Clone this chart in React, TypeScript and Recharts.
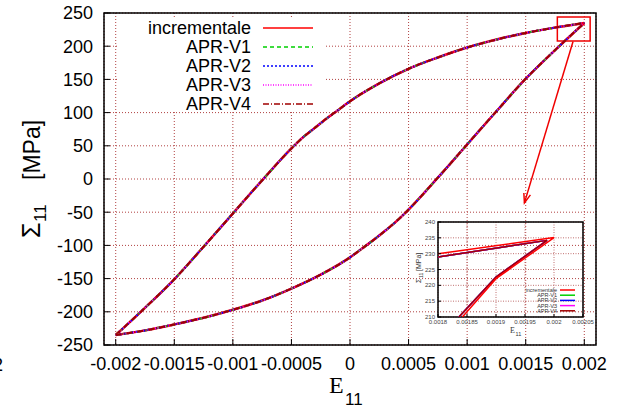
import { LineChart, Line, XAxis, YAxis, CartesianGrid, ReferenceArea, ReferenceLine } from 'recharts'

// ramo di carico (parte alta del ciclo)
const upperStrain = [-0.002, -0.00175, -0.0015, -0.00125, -0.001, -0.00075, -0.0005, -0.0004, -0.0003, -0.0002, -0.0001, 0, 0.00025, 0.0005, 0.00075, 0.001, 0.00125, 0.0015, 0.00175, 0.002]
const upperStress = [-235, -194, -151, -102, -52, -2, 46, 63, 77, 91, 104, 117, 144, 166, 183, 198, 210, 220, 228, 235]

// ramo di scarico (parte bassa del ciclo)
const lowerStrain = [-0.002, -0.00175, -0.0015, -0.00125, -0.001, -0.00075, -0.0005, -0.00025, 0, 0.0001, 0.0002, 0.0003, 0.0004, 0.0005, 0.00075, 0.001, 0.00125, 0.0015, 0.00175, 0.002]
const lowerStress = [-235, -228, -219, -209, -197, -183, -165, -144, -118, -105, -92, -78, -63, -46, 2, 52, 102, 151, 194, 235]

const xTicks = [-0.002, -0.0015, -0.001, -0.0005, 0, 0.0005, 0.001, 0.0015, 0.002]
const xTickLabels = ['-0.002', '-0.0015', '-0.001', '-0.0005', '0', '0.0005', '0.001', '0.0015', '0.002']
const yTicks = [-250, -200, -150, -100, -50, 0, 50, 100, 150, 200, 250]

// zoom sul vertice
const zoomStrainInc = [0.0018, 0.002, 0.0019, 0.001842]
const zoomStressInc = [230.0, 235.1, 222.1, 210]
const zoomStrainApr = [0.0018, 0.001988, 0.0019, 0.001836]
const zoomStressApr = [228.95, 234.2, 222.6, 210]

const zoomXTicks = [0.0018, 0.00185, 0.0019, 0.00195, 0.002, 0.00205]
const zoomXTickLabels = ['0.0018', '0.00185', '0.0019', '0.00195', '0.002', '0.00205']
const zoomYTicks = [210, 215, 220, 225, 230, 235, 240]

// riquadro e freccia
const boxX = [0.00177, 0.00205]
const boxY = [208, 244]
const arrowFrom = { x: 0.001904, y: 207 }
const arrowTo = { x: 0.001489, y: -36 }

const SERIES = [
  { name: 'incrementale', color: '#ff0000', dash: undefined, width: 2.5 },
  { name: 'APR-V1', color: '#00d000', dash: '4 3', width: 2 },
  { name: 'APR-V2', color: '#0000ff', dash: '2 2', width: 2 },
  { name: 'APR-V3', color: '#ff00ff', dash: '1 1.5', width: 2 },
  { name: 'APR-V4', color: '#a00000', dash: '6 2 1 2', width: 2 },
]

const SANS = '"Liberation Sans", Arial, Helvetica, sans-serif'
const SERIF = '"Liberation Serif", "Times New Roman", serif'
const GRID = '#b04040'
const RED = '#f00000'

const toPoints = (xs: number[], ys: number[]) => xs.map((x, i) => ({ x, y: ys[i] }))

const upper = toPoints(upperStrain, upperStress)
const lower = toPoints(lowerStrain, lowerStress)
const zoomInc = toPoints(zoomStrainInc, zoomStressInc)
const zoomApr = toPoints(zoomStrainApr, zoomStressApr)

function Arrow(props: any) {
  const { x1, y1, x2, y2 } = props
  const a = Math.atan2(y2 - y1, x2 - x1)
  const len = 10
  const s = 0.35
  const l = `${x2 - len * Math.cos(a - s)},${y2 - len * Math.sin(a - s)}`
  const r = `${x2 - len * Math.cos(a + s)},${y2 - len * Math.sin(a + s)}`
  return (
    <g>
      <line x1={x1} y1={y1} x2={x2} y2={y2} stroke={RED} strokeWidth={1.5} />
      <path d={`M${l} L${x2},${y2} L${r}`} fill="none" stroke={RED} strokeWidth={1.5} />
    </g>
  )
}

function MainChart() {
  const tickStyle = { fill: '#000', fontSize: 18, fontFamily: SANS }
  return (
    <LineChart width={622} height={412} margin={{ top: 13, right: 26, bottom: 37, left: 0 }}>
      <CartesianGrid stroke={GRID} strokeDasharray="1 2" />
      <XAxis
        dataKey="x"
        type="number"
        domain={[-0.0021, 0.0021]}
        ticks={xTicks}
        interval={0}
        allowDataOverflow
        height={30}
        axisLine={false}
        tickSize={-6}
        tickMargin={18}
        tickLine={{ stroke: '#000' }}
        tick={tickStyle}
        tickFormatter={(v: number) => xTickLabels[xTicks.indexOf(v)] ?? String(v)}
      />
      <XAxis
        xAxisId="top"
        orientation="top"
        type="number"
        domain={[-0.0021, 0.0021]}
        ticks={xTicks}
        interval={0}
        allowDataOverflow
        height={0}
        axisLine={false}
        tickSize={-6}
        tickLine={{ stroke: '#000' }}
        tick={false}
      />
      <YAxis
        type="number"
        domain={[-250, 250]}
        ticks={yTicks}
        interval={0}
        allowDataOverflow
        width={104}
        axisLine={false}
        tickSize={-6}
        tickMargin={17}
        tickLine={{ stroke: '#000' }}
        tick={tickStyle}
      />
      <YAxis
        yAxisId="right"
        orientation="right"
        type="number"
        domain={[-250, 250]}
        ticks={yTicks}
        interval={0}
        allowDataOverflow
        width={0}
        axisLine={false}
        tickSize={-6}
        tickLine={{ stroke: '#000' }}
        tick={false}
      />
      <ReferenceArea x1={-0.0021} x2={0.0021} y1={-250} y2={250} fill="none" stroke="#000" strokeWidth={1.5} ifOverflow="visible" />
      {SERIES.map(s => (
        <Line
          key={`${s.name}-up`}
          data={upper}
          dataKey="y"
          type="monotone"
          stroke={s.color}
          strokeWidth={s.width}
          strokeDasharray={s.dash}
          dot={false}
          isAnimationActive={false}
        />
      ))}
      {SERIES.map(s => (
        <Line
          key={`${s.name}-down`}
          data={lower}
          dataKey="y"
          type="monotone"
          stroke={s.color}
          strokeWidth={s.width}
          strokeDasharray={s.dash}
          dot={false}
          isAnimationActive={false}
        />
      ))}
      <ReferenceArea x1={boxX[0]} x2={boxX[1]} y1={boxY[0]} y2={boxY[1]} fill="none" stroke={RED} strokeWidth={1.5} ifOverflow="visible" />
      <ReferenceLine segment={[arrowFrom, arrowTo]} stroke={RED} shape={Arrow} ifOverflow="visible" />
    </LineChart>
  )
}

function ZoomChart() {
  const tickStyle = { fill: '#444', fontSize: 6, fontFamily: SANS }
  return (
    <LineChart width={200} height={130} margin={{ top: 10, right: 17, bottom: 0, left: 0 }}>
      <CartesianGrid stroke="#c07070" strokeDasharray="1 1.5" />
      <XAxis
        dataKey="x"
        type="number"
        domain={[0.0018, 0.00205]}
        ticks={zoomXTicks}
        interval={0}
        allowDataOverflow
        height={25}
        axisLine={false}
        tickSize={-3}
        tickMargin={5.5}
        tickLine={{ stroke: '#000' }}
        tick={tickStyle}
        tickFormatter={(v: number) => zoomXTickLabels[zoomXTicks.indexOf(v)] ?? String(v)}
      />
      <YAxis
        type="number"
        domain={[210, 240]}
        ticks={zoomYTicks}
        interval={0}
        allowDataOverflow
        width={38}
        axisLine={false}
        tickSize={-3}
        tickMargin={6}
        tickLine={{ stroke: '#000' }}
        tick={tickStyle}
      />
      <ReferenceArea x1={0.0018} x2={0.00205} y1={210} y2={240} fill="none" stroke="#000" strokeWidth={1.5} ifOverflow="visible" />
      {SERIES.slice(1).map(s => (
        <Line
          key={s.name}
          data={zoomApr}
          dataKey="y"
          type="linear"
          stroke={s.color}
          strokeWidth={1.5}
          dot={false}
          isAnimationActive={false}
        />
      ))}
      <Line data={zoomInc} dataKey="y" type="linear" stroke={SERIES[0].color} strokeWidth={1.5} dot={false} isAnimationActive={false} />
    </LineChart>
  )
}

function Overlay() {
  return (
    <svg width={622} height={412} style={{ position: 'absolute', left: 0, top: 0, pointerEvents: 'none', overflow: 'visible' }}>
      {/* legenda principale */}
      <rect x={118} y={19} width={206} height={92} fill="#fff" />
      {SERIES.map((s, i) => {
        const y = 28 + i * 19
        return (
          <g key={s.name}>
            <text x={251} y={y + 6} textAnchor="end" fontSize={18} fontFamily={SANS} fill="#000">{s.name}</text>
            <line x1={263} x2={313} y1={y} y2={y} stroke={s.color} strokeWidth={1.5} strokeDasharray={s.dash} />
          </g>
        )
      })}
      {/* etichette assi */}
      <g transform="translate(40,0) rotate(-90)">
        <text x={-238} y={0} fontSize={25} fontFamily={SANS} fill="#000">Σ</text>
        <text x={-222} y={6} fontSize={17} fontFamily={SANS} fill="#000">11</text>
        <text x={-180} y={0} fontSize={23} fontFamily={SANS} fill="#000">[MPa]</text>
      </g>
      <text x={329} y={393} fontSize={24} fontFamily={SERIF} fill="#000">E</text>
      <text x={345} y={405} fontSize={17} fontFamily={SANS} fill="#000">11</text>
      <text x={-7} y={371} fontSize={18} fontFamily={SANS} fill="#000">2</text>
      {/* zoom: etichette e legenda */}
      <g transform="translate(421,0) rotate(-90)">
        <text x={-283} y={0} fontSize={7} fontFamily={SANS} fill="#333">Σ</text>
        <text x={-278} y={2} fontSize={5} fontFamily={SANS} fill="#333">11</text>
        <text x={-271} y={0} fontSize={7} fontFamily={SANS} fill="#333">[MPa]</text>
      </g>
      <text x={510} y={333} fontSize={8} fontFamily={SERIF} fill="#333">E</text>
      <text x={515.5} y={335.5} fontSize={5.5} fontFamily={SANS} fill="#333">11</text>
      {SERIES.map((s, i) => {
        const y = 290 + i * 5.2
        return (
          <g key={`z-${s.name}`}>
            <text x={557} y={y + 2} textAnchor="end" fontSize={5.5} fontFamily={SANS} fill="#333">{s.name}</text>
            <line x1={560} x2={575} y1={y} y2={y} stroke={s.color} strokeWidth={1.5} />
          </g>
        )
      })}
    </svg>
  )
}

export default function App() {
  return (
    <div style={{ position: 'absolute', left: 0, top: 0, width: 622, height: 412, background: '#fff', fontFamily: SANS }}>
      <MainChart />
      <div style={{ position: 'absolute', left: 400, top: 212 }}>
        <ZoomChart />
      </div>
      <Overlay />
    </div>
  )
}
